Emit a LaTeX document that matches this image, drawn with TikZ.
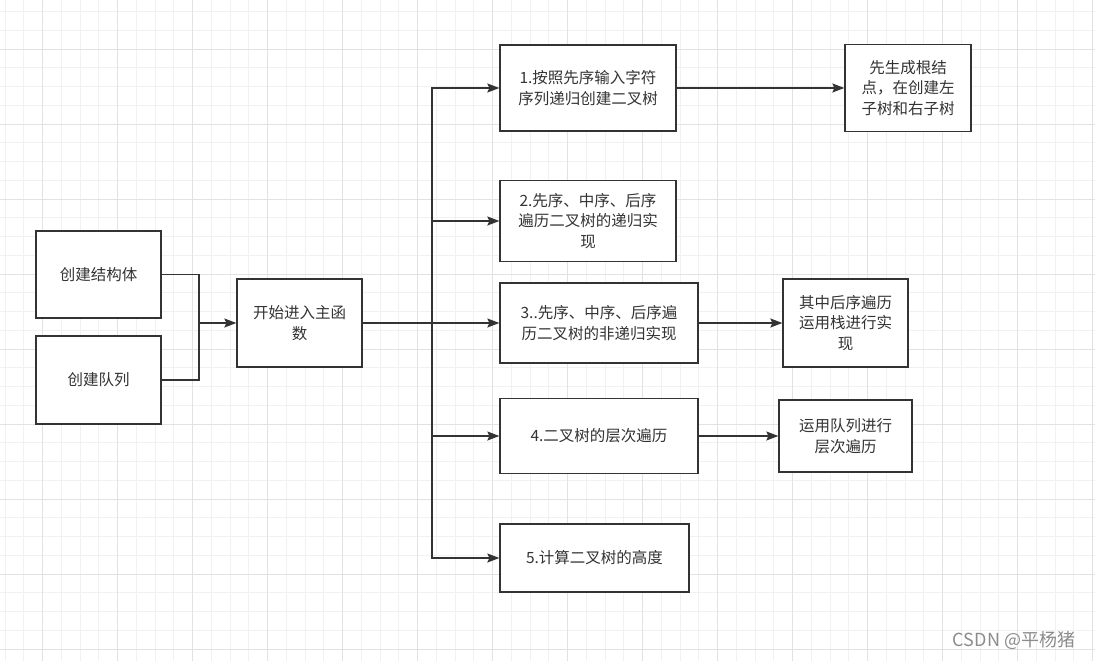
\documentclass[tikz,border=0pt]{standalone}
\usepackage{fontspec}
\setmainfont{Noto Sans CJK SC}
\usetikzlibrary{arrows.meta}
\definecolor{gridminor}{HTML}{F1F1F1}
\definecolor{gridmajor}{HTML}{E2E2E2}
\definecolor{ink}{HTML}{333333}
\begin{document}
\begin{tikzpicture}[x=1pt,y=-1pt,
  box/.style={draw=ink,line width=1.3pt,fill=white,text=ink,align=center,inner sep=0pt,
    font=\fontsize{15.5}{20.5}\selectfont},
  conn/.style={draw=ink,line width=1.2pt},
  arr/.style={conn,-{Stealth[length=12pt,width=9pt,inset=2pt]}}]
\useasboundingbox (0,0) rectangle (1095,661);
\fill[white] (0,0) rectangle (1095,661);
% grid
\foreach \k in {0,...,58} {
  \draw[gridminor,line width=1pt] ({5+18.75*\k},0) -- ({5+18.75*\k},661);
}
\foreach \k in {0,...,35} {
  \draw[gridminor,line width=1pt] (0,{11.7+18.75*\k}) -- (1095,{11.7+18.75*\k});
}
\foreach \k in {0,...,14} {
  \draw[gridmajor,line width=1pt] ({42.5+75*\k},0) -- ({42.5+75*\k},661);
}
\foreach \k in {0,...,8} {
  \draw[gridmajor,line width=1pt] (0,{49.2+75*\k}) -- (1095,{49.2+75*\k});
}
% nodes
\node[box,minimum width=125pt,minimum height=87pt] (s1) at (98.5,274.5) {创建结构体};
\node[box,minimum width=125pt,minimum height=88pt] (s2) at (98.5,380) {创建队列};
\node[box,minimum width=125pt,minimum height=88pt] (main) at (299.5,323) {开始进入主函\\数};
\node[box,minimum width=176pt,minimum height=86pt] (b1) at (588,88) {1.按照先序输入字符\\序列递归创建二叉树};
\node[box,minimum width=176pt,minimum height=81pt] (b2) at (588,221) {2.先序、中序、后序\\遍历二叉树的递归实\\现};
\node[box,minimum width=198pt,minimum height=80pt] (b3) at (599,323) {3..先序、中序、后序遍\\历二叉树的非递归实现};
\node[box,minimum width=198pt,minimum height=75pt] (b4) at (599,436) {4.二叉树的层次遍历};
\node[box,minimum width=189pt,minimum height=68pt] (b5) at (594.5,558) {5.计算二叉树的高度};
\node[box,minimum width=126pt,minimum height=87pt] (r1) at (908,88) {先生成根结\\点，在创建左\\子树和右子树};
\node[box,minimum width=125pt,minimum height=88pt] (r3) at (845.5,323) {其中后序遍历\\运用栈进行实\\现};
\node[box,minimum width=133pt,minimum height=72pt] (r4) at (845.5,436) {运用队列进行\\层次遍历};
\node[text=black!45,font=\fontsize{18}{20}\selectfont,inner sep=0pt] (wm) at (1014,640) {CSDN @平杨猪};
% connectors
\coordinate (m) at (199,323);
\coordinate (j) at (432,323);
\draw[conn] (s1.east) -| (m);
\draw[conn] (s2.east) -| (m);
\draw[arr] (m) -- (main.west);
\draw[arr] (main.east) -- (b3.west);
\draw[arr] (j) |- (b1.west);
\draw[arr] (j) |- (b2.west);
\draw[arr] (j) |- (b4.west);
\draw[arr] (j) |- (b5.west);
\draw[arr] (b1.east) -- (r1.west);
\draw[arr] (b3.east) -- (r3.west);
\draw[arr] (b4.east) -- (r4.west);
\end{tikzpicture}
\end{document}
